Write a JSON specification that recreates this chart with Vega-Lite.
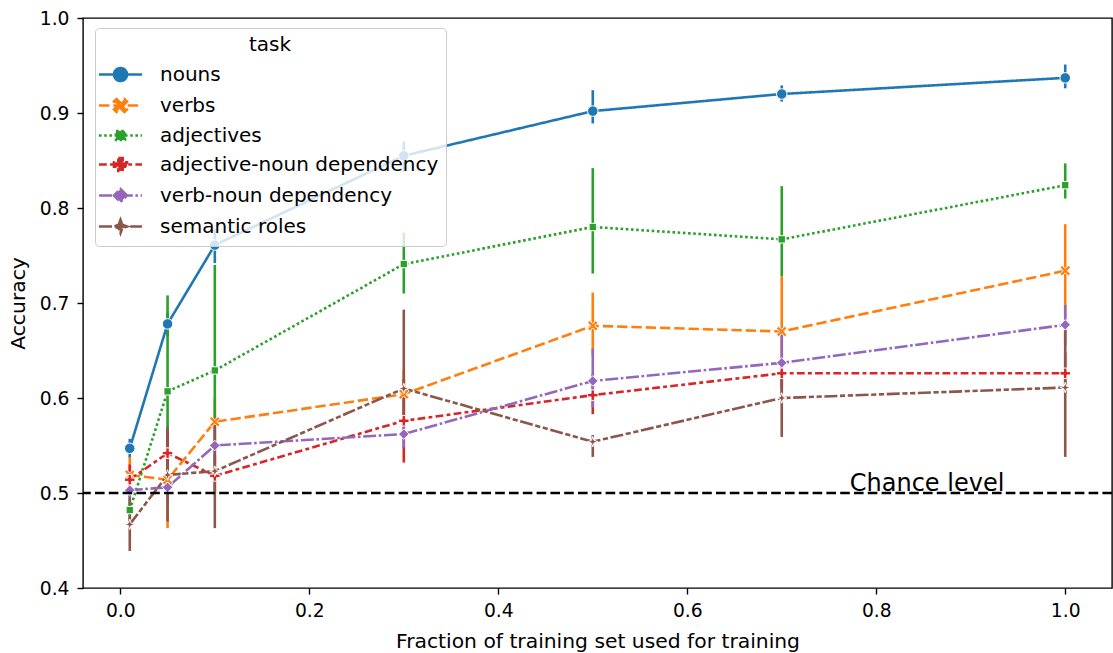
{
  "$schema": "https://vega.github.io/schema/vega-lite/v6.json",
  "width": 1029,
  "height": 570,
  "autosize": {"type": "none"},
  "padding": {"left": 83, "top": 18, "right": 1, "bottom": 65},
  "background": "white",
  "config": {
    "font": "DejaVu Sans",
    "view": {"stroke": "black", "strokeWidth": 1.4},
    "axis": {
      "grid": false,
      "domain": false,
      "tickSize": 6,
      "tickWidth": 1.4,
      "tickColor": "black",
      "labelFontSize": 18.7,
      "labelColor": "black",
      "titleFontSize": 20.3,
      "titleFontWeight": "normal",
      "titleColor": "black",
      "format": ".1f"
    }
  },
  "datasets": {
    "main": [
      {"task": "nouns", "frac": 0.01, "acc": 0.547, "lo": 0.537, "hi": 0.557},
      {"task": "nouns", "frac": 0.05, "acc": 0.678, "lo": 0.665, "hi": 0.690},
      {"task": "nouns", "frac": 0.1, "acc": 0.761, "lo": 0.742, "hi": 0.778},
      {"task": "nouns", "frac": 0.3, "acc": 0.855, "lo": 0.838, "hi": 0.870},
      {"task": "nouns", "frac": 0.5, "acc": 0.902, "lo": 0.889, "hi": 0.924},
      {"task": "nouns", "frac": 0.7, "acc": 0.920, "lo": 0.912, "hi": 0.929},
      {"task": "nouns", "frac": 1.0, "acc": 0.937, "lo": 0.926, "hi": 0.951},
      {"task": "verbs", "frac": 0.01, "acc": 0.519, "lo": 0.500, "hi": 0.538},
      {"task": "verbs", "frac": 0.05, "acc": 0.514, "lo": 0.463, "hi": 0.560},
      {"task": "verbs", "frac": 0.1, "acc": 0.575, "lo": 0.550, "hi": 0.600},
      {"task": "verbs", "frac": 0.3, "acc": 0.604, "lo": 0.580, "hi": 0.630},
      {"task": "verbs", "frac": 0.5, "acc": 0.676, "lo": 0.645, "hi": 0.711},
      {"task": "verbs", "frac": 0.7, "acc": 0.670, "lo": 0.615, "hi": 0.728},
      {"task": "verbs", "frac": 1.0, "acc": 0.734, "lo": 0.685, "hi": 0.783},
      {"task": "adjectives", "frac": 0.01, "acc": 0.482, "lo": 0.470, "hi": 0.497},
      {"task": "adjectives", "frac": 0.05, "acc": 0.607, "lo": 0.500, "hi": 0.708},
      {"task": "adjectives", "frac": 0.1, "acc": 0.629, "lo": 0.579, "hi": 0.740},
      {"task": "adjectives", "frac": 0.3, "acc": 0.741, "lo": 0.710, "hi": 0.774},
      {"task": "adjectives", "frac": 0.5, "acc": 0.780, "lo": 0.731, "hi": 0.842},
      {"task": "adjectives", "frac": 0.7, "acc": 0.767, "lo": 0.728, "hi": 0.823},
      {"task": "adjectives", "frac": 1.0, "acc": 0.824, "lo": 0.810, "hi": 0.847},
      {"task": "adjective-noun dependency", "frac": 0.01, "acc": 0.514, "lo": 0.500, "hi": 0.530},
      {"task": "adjective-noun dependency", "frac": 0.05, "acc": 0.542, "lo": 0.520, "hi": 0.565},
      {"task": "adjective-noun dependency", "frac": 0.1, "acc": 0.518, "lo": 0.500, "hi": 0.540},
      {"task": "adjective-noun dependency", "frac": 0.3, "acc": 0.576, "lo": 0.532, "hi": 0.620},
      {"task": "adjective-noun dependency", "frac": 0.5, "acc": 0.603, "lo": 0.583, "hi": 0.625},
      {"task": "adjective-noun dependency", "frac": 0.7, "acc": 0.626, "lo": 0.610, "hi": 0.642},
      {"task": "adjective-noun dependency", "frac": 1.0, "acc": 0.626, "lo": 0.605, "hi": 0.648},
      {"task": "verb-noun dependency", "frac": 0.01, "acc": 0.503, "lo": 0.495, "hi": 0.511},
      {"task": "verb-noun dependency", "frac": 0.05, "acc": 0.506, "lo": 0.492, "hi": 0.520},
      {"task": "verb-noun dependency", "frac": 0.1, "acc": 0.550, "lo": 0.530, "hi": 0.570},
      {"task": "verb-noun dependency", "frac": 0.3, "acc": 0.562, "lo": 0.548, "hi": 0.577},
      {"task": "verb-noun dependency", "frac": 0.5, "acc": 0.618, "lo": 0.590, "hi": 0.652},
      {"task": "verb-noun dependency", "frac": 0.7, "acc": 0.637, "lo": 0.605, "hi": 0.673},
      {"task": "verb-noun dependency", "frac": 1.0, "acc": 0.677, "lo": 0.655, "hi": 0.698},
      {"task": "semantic roles", "frac": 0.01, "acc": 0.467, "lo": 0.439, "hi": 0.495},
      {"task": "semantic roles", "frac": 0.05, "acc": 0.519, "lo": 0.470, "hi": 0.570},
      {"task": "semantic roles", "frac": 0.1, "acc": 0.523, "lo": 0.463, "hi": 0.579},
      {"task": "semantic roles", "frac": 0.3, "acc": 0.610, "lo": 0.577, "hi": 0.693},
      {"task": "semantic roles", "frac": 0.5, "acc": 0.554, "lo": 0.538, "hi": 0.561},
      {"task": "semantic roles", "frac": 0.7, "acc": 0.600, "lo": 0.559, "hi": 0.640},
      {"task": "semantic roles", "frac": 1.0, "acc": 0.611, "lo": 0.538, "hi": 0.672}
    ],
    "chance": [
      {"frac": 0.772, "acc": 0.5, "label": "Chance level"}
    ]
  },
  "layer": [
    {
      "data": {"name": "main"},
      "encoding": {
        "x": {
          "field": "frac",
          "type": "quantitative",
          "scale": {"domain": [-0.0395, 1.0495], "nice": false, "zero": false},
          "axis": {
            "title": "Fraction of training set used for training",
            "values": [0, 0.2, 0.4, 0.6, 0.8, 1.0],
            "labelPadding": 7,
            "titlePadding": 12
          }
        }
      },
      "resolve": {"legend": {"color": "independent", "shape": "independent", "strokeDash": "independent"}},
      "layer": [
        {
          "mark": {"type": "rule", "strokeWidth": 2.6},
          "encoding": {
            "y": {
              "field": "lo",
              "type": "quantitative",
              "scale": {"domain": [0.4, 1.0], "nice": false, "zero": false},
              "axis": {
                "title": "Accuracy",
                "values": [0.4, 0.5, 0.6, 0.7, 0.8, 0.9, 1.0],
                "labelPadding": 8,
                "titlePadding": 11
              }
            },
            "y2": {"field": "hi"},
            "color": {
              "field": "task",
              "type": "nominal",
              "scale": {
                "domain": ["nouns", "verbs", "adjectives", "adjective-noun dependency", "verb-noun dependency", "semantic roles"],
                "range": ["#1f77b4", "#ff7f0e", "#2ca02c", "#d62728", "#9467bd", "#8c564b"]
              },
              "legend": null
            }
          }
        },
        {
          "mark": {"type": "line", "strokeWidth": 2.6, "strokeCap": "butt"},
          "encoding": {
            "y": {"field": "acc", "type": "quantitative"},
            "color": {
              "field": "task",
              "type": "nominal",
              "legend": {
                "title": "task",
                "orient": "none",
                "legendX": 12,
                "legendY": 10,
                "titleAnchor": "middle",
                "titleFontSize": 20,
                "titleFontWeight": "normal",
                "titleColor": "black",
                "titlePadding": 8,
                "labelFontSize": 20,
                "labelColor": "black",
                "labelLimit": 0,
                "symbolSize": 400,
                "symbolOffset": 7,
                "labelOffset": 28,
                "rowPadding": 6,
                "padding": 7,
                "fillColor": "rgba(255,255,255,0.8)",
                "strokeColor": "#cccccc",
                "cornerRadius": 4,
                "symbolStrokeWidth": 2.6,
                "encode": {
                  "symbols": {
                    "update": {
                      "shape": {"signal": "datum.value === 'nouns' ? 'M-2.15,0H2.15M0.65,0A0.65,0.65 0 1,1 -0.65,0A0.65,0.65 0 1,1 0.65,0Z' : datum.value === 'verbs' ? 'M-2.15,0H2.15M-0.65,-0.39L-0.39,-0.65L0,-0.26L0.39,-0.65L0.65,-0.39L0.26,0L0.65,0.39L0.39,0.65L0,0.26L-0.39,0.65L-0.65,0.39L-0.26,0Z' : datum.value === 'adjectives' ? 'M-2.15,0H2.15M-0.45,-0.45H0.45V0.45H-0.45Z' : datum.value === 'adjective-noun dependency' ? 'M-2.15,0H2.15M-0.22,-0.65H0.22V-0.22H0.65V0.22H0.22V0.65H-0.22V0.22H-0.65V-0.22H-0.22Z' : datum.value === 'verb-noun dependency' ? 'M-2.15,0H2.15M0,-0.65L0.65,0L0,0.65L-0.65,0Z' : 'M-2.15,0H2.15M0,-0.65L0.17,-0.17L0.65,0L0.17,0.17L0,0.65L-0.17,0.17L-0.65,0L-0.17,-0.17Z'"},
                      "fill": {"scale": "color", "field": "value"},
                      "stroke": {"scale": "color", "field": "value"},
                      "strokeDash": {"scale": "strokeDash", "field": "value"},
                      "strokeWidth": {"value": 2.6},
                      "opacity": {"value": 1},
                      "fillOpacity": {"value": 1},
                      "strokeOpacity": {"value": 1}
                    }
                  }
                }
              }
            },
            "strokeDash": {
              "field": "task",
              "type": "nominal",
              "scale": {
                "domain": ["nouns", "verbs", "adjectives", "adjective-noun dependency", "verb-noun dependency", "semantic roles"],
                "range": [[1, 0], [10.4, 3.9], [2.6, 2.6], [7.8, 3.25, 3.9, 3.25], [13, 2.6, 2.6, 2.6], [13, 2.6, 5.2, 2.6, 5.2, 2.6]]
              },
              "legend": null
            }
          }
        },
        {
          "mark": {"type": "point", "filled": true, "size": 110, "stroke": "white", "strokeWidth": 1, "opacity": 1, "strokeOpacity": 1},
          "encoding": {
            "y": {"field": "acc", "type": "quantitative"},
            "color": {"field": "task", "type": "nominal", "legend": null},
            "shape": {
              "field": "task",
              "type": "nominal",
              "scale": {
                "domain": ["nouns", "verbs", "adjectives", "adjective-noun dependency", "verb-noun dependency", "semantic roles"],
                "range": [
                  "circle",
                  "M-1,-0.6L-0.6,-1L0,-0.4L0.6,-1L1,-0.6L0.4,0L1,0.6L0.6,1L0,0.4L-0.6,1L-1,0.6L-0.4,0Z",
                  "M-0.7,-0.7H0.7V0.7H-0.7Z",
                  "M-0.33,-1H0.33V-0.33H1V0.33H0.33V1H-0.33V0.33H-1V-0.33H-0.33Z",
                  "M0,-1L1,0L0,1L-1,0Z",
                  "M0,-1L0.25,-0.25L1,0L0.25,0.25L0,1L-0.25,0.25L-1,0L-0.25,-0.25Z"
                ]
              },
              "legend": null
            }
          }
        }
      ]
    },
    {
      "data": {"name": "chance"},
      "mark": {"type": "rule", "color": "black", "strokeWidth": 2.6, "strokeDash": [9.6, 4.2]},
      "encoding": {
        "y": {"field": "acc", "type": "quantitative"}
      }
    },
    {
      "data": {"name": "chance"},
      "mark": {"type": "text", "align": "left", "baseline": "alphabetic", "fontSize": 24, "color": "black", "dy": -2},
      "encoding": {
        "x": {"field": "frac", "type": "quantitative"},
        "y": {"field": "acc", "type": "quantitative"},
        "text": {"field": "label"}
      }
    }
  ]
}
